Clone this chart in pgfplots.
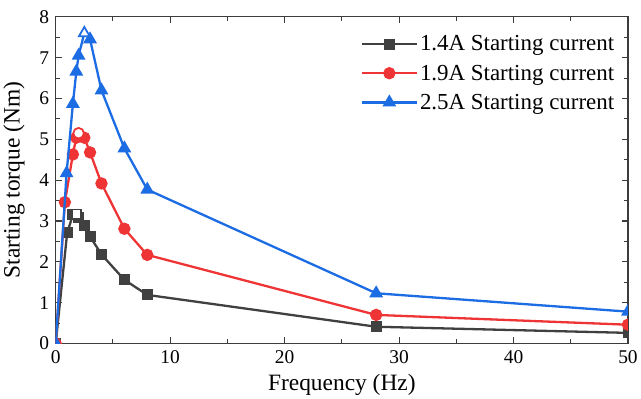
\documentclass[border={0pt 0pt 0pt 7pt}]{standalone}
\usepackage{pgfplots}
\pgfplotsset{compat=1.18}
\usepackage{fontspec}
\setmainfont{Liberation Serif}
\definecolor{cgray}{RGB}{64,64,64}
\definecolor{cred}{RGB}{238,52,52}
\definecolor{cblue}{RGB}{28,108,228}
\definecolor{caxis}{RGB}{60,60,60}
\begin{document}
\begin{tikzpicture}
\begin{axis}[
  scale only axis,
  width=572bp, height=326.5bp,
  xmin=0, xmax=50, ymin=0, ymax=8,
  xtick={0,10,20,30,40,50},
  ytick={0,1,2,3,4,5,6,7,8},
  minor x tick num=1, minor y tick num=1,
  tick align=inside,
  major tick length=6bp, minor tick length=4bp,
  axis line style={caxis, line width=1.3bp},
  every tick/.style={caxis, line width=1.1bp},
  /pgf/number format/assume math mode=true,
  ticklabel style={font=\fontsize{19.5}{22}\selectfont},
  yticklabel style={xshift=-3bp},
  xticklabel style={yshift=-4bp},
  label style={font=\fontsize{23.5}{27}\selectfont},
  xlabel={Frequency (Hz)},
  ylabel={Starting torque (Nm)},
  xlabel style={yshift=-3bp},
  ylabel style={yshift=8bp},
  clip mode=individual,
  clip marker paths=true,
  legend style={at={(0.985,0.955)}, anchor=north east, draw=none, fill=none,
    font=\fontsize{23}{27}\selectfont, row sep=8.5bp},
  legend cell align=left,
  legend image code/.code={\draw[mark repeat=2,mark phase=2] plot coordinates {(0cm,0cm) (0.97cm,0cm) (1.94cm,0cm)};},
]
\addplot[cgray, line width=2.3bp, mark=square*, mark size=4.3bp, mark options={solid}] coordinates {
 (0,0) (1,2.71) (1.5,3.15) (1.8,3.17) (2,3.08) (2.5,2.90) (3,2.62) (4,2.18) (6,1.56) (8,1.19) (28,0.41) (50,0.26)};
\addlegendentry{1.4A Starting current}
\addplot[cred, line width=2.3bp, mark=*, mark size=5bp, mark options={solid}] coordinates {
 (0,0) (0.8,3.46) (1.5,4.63) (1.8,5.04) (2,5.15) (2.5,5.04) (3,4.68) (4,3.92) (6,2.81) (8,2.17) (28,0.70) (50,0.46)};
\addlegendentry{1.9A Starting current}
\addplot[cblue, line width=2.3bp, mark=triangle*, mark size=5.7bp, mark options={solid}] coordinates {
 (0,0) (0.95,4.17) (1.5,5.87) (1.8,6.66) (2,7.05) (2.5,7.6) (3,7.45) (4,6.2) (6,4.78) (8,3.77) (28,1.23) (50,0.78)};
\addlegendentry{2.5A Starting current}
\addplot[cgray, only marks, mark=square*, mark size=4.3bp, mark options={fill=white, line width=1.2bp}, forget plot] coordinates {(1.8,3.17)};
\addplot[cred, only marks, mark=*, mark size=5bp, mark options={fill=white, line width=1.2bp}, forget plot] coordinates {(2,5.15)};
\addplot[cblue, only marks, mark=triangle*, mark size=5.7bp, mark options={fill=white, line width=1.2bp}, forget plot] coordinates {(2.5,7.6)};
\end{axis}
\end{tikzpicture}
\end{document}
